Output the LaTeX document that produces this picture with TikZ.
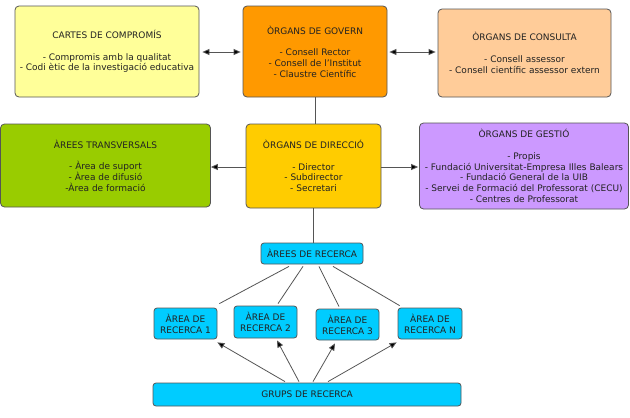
\documentclass[tikz,border=0pt]{standalone}
\usepackage{fontspec}
\setmainfont{DejaVu Sans}
\usetikzlibrary{arrows.meta,calc}
\definecolor{cyell}{HTML}{FFFF99}
\definecolor{corange}{HTML}{FF9900}
\definecolor{cpeach}{HTML}{FFCC99}
\definecolor{cgreen}{HTML}{99CC00}
\definecolor{cgold}{HTML}{FFCC00}
\definecolor{cpurple}{HTML}{CC99FF}
\definecolor{ccyan}{HTML}{00CCFF}
\definecolor{cborder}{HTML}{555555}
\definecolor{cline}{HTML}{555555}
\definecolor{ctext}{HTML}{222222}
\tikzset{
  box/.style={draw=cborder, line width=0.8pt, rounded corners=4pt, align=center,
    inner sep=0pt, text=ctext, font=\fontsize{9}{10.8}\selectfont},
  conn/.style={draw=cline, line width=0.8pt},
  arr/.style={conn, -{Triangle[length=7pt,width=6pt,fill=black]}},
  darr/.style={conn, {Triangle[length=7pt,width=6pt,fill=black]}-{Triangle[length=7pt,width=6pt,fill=black]}}
}
\begin{document}
\begin{tikzpicture}[x=1pt,y=-1pt]
\useasboundingbox (0,0) rectangle (630,418);
\fill[white] (0,0) rectangle (630,418);
\node[box, fill=cyell, minimum width=184pt, minimum height=91pt] (cartes) at (107,51.5)
  {CARTES DE COMPROMÍS\\[10.8pt]- Compromis amb la qualitat\\- Codi ètic de la investigació educativa};
\node[box, fill=corange, minimum width=144pt, minimum height=91pt] (govern) at (315,51.5)
  {ÒRGANS DE GOVERN\\[10.8pt]- Consell Rector\\- Consell de l’Institut\\- Claustre Científic};
\node[box, fill=cpeach, minimum width=173pt, minimum height=88pt] (consulta) at (524.5,53)
  {ÒRGANS DE CONSULTA\\[10.8pt]- Consell assessor\\- Consell científic assessor extern};
\node[box, fill=cgreen, minimum width=210pt, minimum height=83pt] (transv) at (105.5,165.5)
  {ÀREES TRANSVERSALS\\[10.8pt]- Àrea de suport\\- Àrea de difusió\\-Àrea de formació};
\node[box, fill=cgold, minimum width=135pt, minimum height=84pt] (direccio) at (313.5,166)
  {ÒRGANS DE DIRECCIÓ\\[10.8pt]- Director\\- Subdirector\\- Secretari};
\node[box, fill=cpurple, minimum width=209pt, minimum height=86pt] (gestio) at (524,166)
  {ÒRGANS DE GESTIÓ\\[10.8pt]- Propis\\- Fundació Universitat-Empresa Illes Balears\\- Fundació General de la UIB\\- Servei de Formació del Professorat (CECU)\\- Centres de Professorat};
\node[box, fill=ccyan, minimum width=102pt, minimum height=21pt, rounded corners=3pt] (recerca) at (312,253.5)
  {ÀREES DE RECERCA};
\node[box, fill=ccyan, minimum width=63pt, minimum height=31pt, rounded corners=3pt] (a1) at (185.5,323.5)
  {ÀREA DE\\RECERCA 1};
\node[box, fill=ccyan, minimum width=63pt, minimum height=32pt, rounded corners=3pt] (a2) at (265.5,322)
  {ÀREA DE\\RECERCA 2};
\node[box, fill=ccyan, minimum width=63pt, minimum height=31pt, rounded corners=3pt] (a3) at (347.5,324.5)
  {ÀREA DE\\RECERCA 3};
\node[box, fill=ccyan, minimum width=64pt, minimum height=31pt, rounded corners=3pt] (aN) at (430,323.5)
  {ÀREA DE\\RECERCA N};
\node[box, fill=ccyan, minimum width=308pt, minimum height=23pt, rounded corners=3pt] (grups) at (307,394.5)
  {GRUPS DE RECERCA};
% top connectors
\draw[darr, shorten <=3pt, shorten >=2pt] (cartes.east |- 0,52) -- (govern.west |- 0,52);
\draw[darr, shorten <=2pt, shorten >=2pt] (govern.east |- 0,52) -- (consulta.west |- 0,52);
\draw[conn] (govern.south) -- (govern.south |- direccio.north);
\draw[arr] (direccio.west |- 0,167) -- (transv.east |- 0,167);
\draw[arr, shorten >=1pt] (direccio.east |- 0,167) -- (gestio.west |- 0,167);
\draw[conn] (direccio.south) -- (direccio.south |- recerca.north);
% research lines
\draw[conn] ($(recerca.south)+(-23,2)$) -- ($(a1.north east)+(2,-4)$);
\draw[conn] ($(recerca.south)+(-9,2)$) -- ($(a2.north)+(12.5,-2)$);
\draw[conn] ($(recerca.south)+(7,2)$) -- ($(a3.north)+(-8.5,-2)$);
\draw[conn] ($(recerca.south)+(21,2)$) -- ($(aN.north west)+(2,-2)$);
% group arrows
\draw[arr] ($(grups.north)+(-22,-1)$) -- ($(a1.south east)+(0,3)$);
\draw[arr] ($(grups.north)+(-8,-1)$) -- ($(a2.south)+(11.5,2)$);
\draw[arr] ($(grups.north)+(6,-1)$) -- ($(a3.south)+(-12.5,3)$);
\draw[arr] ($(grups.north)+(21,-1)$) -- ($(aN.south west)+(-1,3)$);
\end{tikzpicture}
\end{document}
